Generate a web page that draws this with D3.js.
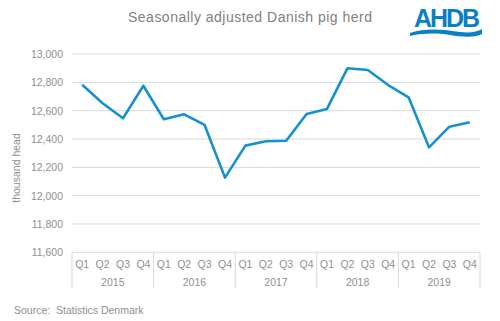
<!DOCTYPE html>
<html>
<head>
<meta charset="utf-8">
<script src="https://cdn.jsdelivr.net/npm/d3@7"></script>
<style>
  body { margin: 0; background: #fff; }
  svg { display: block; font-family: "Liberation Sans", Arial, sans-serif; }
</style>
</head>
<body>
<svg width="500" height="321"></svg>
<script>
// quarterly herd, thousand head
var years = ["2015", "2016", "2017", "2018", "2019"];
var quarters = ["Q1", "Q2", "Q3", "Q4"];
var herd = [12783, 12652, 12546, 12776,
            12539, 12574, 12499, 12127,
            12353, 12384, 12388, 12576,
            12612, 12899, 12887, 12781,
            12694, 12341, 12487, 12518];
var yTicks = [11600, 11800, 12000, 12200, 12400, 12600, 12800, 13000];

var svg = d3.select("svg");
var plotLeft = 72, plotRight = 480, plotTop = 54, plotBottom = 252.3;
var gray = "#8f8f8f";

var periods = [];
years.forEach(function(yr) {
	quarters.forEach(function(q) { periods.push(yr + " " + q); });
});

var x = d3.scaleBand().domain(periods).range([plotLeft, plotRight]);
var yearX = d3.scaleBand().domain(years).range([plotLeft, plotRight]);
var y = d3.scaleLinear().domain([11600, 13000]).range([plotBottom, plotTop]);

/* title */
svg.append("text")
	.attr("x", 250).attr("y", 22)
	.attr("text-anchor", "middle")
	.attr("font-size", 14)
	.attr("fill", "#808080")
	.attr("textLength", 244)
	.text("Seasonally adjusted Danish pig herd");

/* logo */
var logo = svg.append("g");
logo.append("text")
	.attr("x", 447).attr("y", 26.8)
	.attr("text-anchor", "middle")
	.attr("font-size", 25)
	.attr("font-weight", "bold")
	.attr("fill", "#0a7fc6")
	.attr("textLength", 66)
	.text("AHDB");
logo.append("path")
	.attr("d", "M410,33 C428,27 446,30 460,32 C470,33 477,32 482,29 L482,34 C474,38 462,37 450,35 C436,33 424,33 410,36 Z")
	.attr("fill", "#0a7fc6");

/* gridlines and y axis */
svg.append("g")
	.selectAll("line")
	.data(yTicks.slice(1))
	.enter()
	.append("line")
	.attr("x1", plotLeft).attr("x2", plotRight)
	.attr("y1", function(d) { return y(d); })
	.attr("y2", function(d) { return y(d); })
	.attr("stroke", "#d9d9d9")
	.attr("stroke-width", 1);

svg.append("g")
	.selectAll("text")
	.data(yTicks)
	.enter()
	.append("text")
	.attr("x", 63)
	.attr("y", function(d) { return y(d) + 4; })
	.attr("text-anchor", "end")
	.attr("font-size", 10.5)
	.attr("fill", gray)
	.text(d3.format(","));

svg.append("text")
	.attr("transform", "translate(20,168) rotate(-90)")
	.attr("text-anchor", "middle")
	.attr("font-size", 10.5)
	.attr("fill", gray)
	.text("thousand head");

/* category axis box */
var axisG = svg.append("g");
axisG.append("line")
	.attr("x1", plotLeft).attr("x2", plotRight)
	.attr("y1", plotBottom).attr("y2", plotBottom)
	.attr("stroke", "#d9d9d9");
axisG.selectAll("line.sep")
	.data(years.concat(["end"]))
	.enter()
	.append("line")
	.attr("class", "sep")
	.attr("x1", function(d, i) { return plotLeft + i * yearX.bandwidth(); })
	.attr("x2", function(d, i) { return plotLeft + i * yearX.bandwidth(); })
	.attr("y1", plotBottom).attr("y2", 288)
	.attr("stroke", "#d9d9d9");
axisG.selectAll("text.q")
	.data(periods)
	.enter()
	.append("text")
	.attr("class", "q")
	.attr("x", function(d) { return x(d) + x.bandwidth() / 2; })
	.attr("y", 268)
	.attr("text-anchor", "middle")
	.attr("font-size", 10.5)
	.attr("fill", gray)
	.text(function(d) { return d.split(" ")[1]; });
axisG.selectAll("text.yr")
	.data(years)
	.enter()
	.append("text")
	.attr("class", "yr")
	.attr("x", function(d) { return yearX(d) + yearX.bandwidth() / 2; })
	.attr("y", 286)
	.attr("text-anchor", "middle")
	.attr("font-size", 10.5)
	.attr("fill", gray)
	.text(function(d) { return d; });

/* series line */
var line = d3.line()
	.x(function(d, i) { return x(periods[i]) + x.bandwidth() / 2; })
	.y(function(d) { return y(d); });

svg.append("path")
	.datum(herd)
	.attr("d", line)
	.attr("fill", "none")
	.attr("stroke", "#1790d2")
	.attr("stroke-width", 2.6)
	.attr("stroke-linejoin", "round");

/* source */
svg.append("text")
	.attr("x", 14).attr("y", 314)
	.attr("font-size", 10.5)
	.attr("fill", gray)
	.attr("xml:space", "preserve")
	.text("Source:  Statistics Denmark");
</script>
</body>
</html>
